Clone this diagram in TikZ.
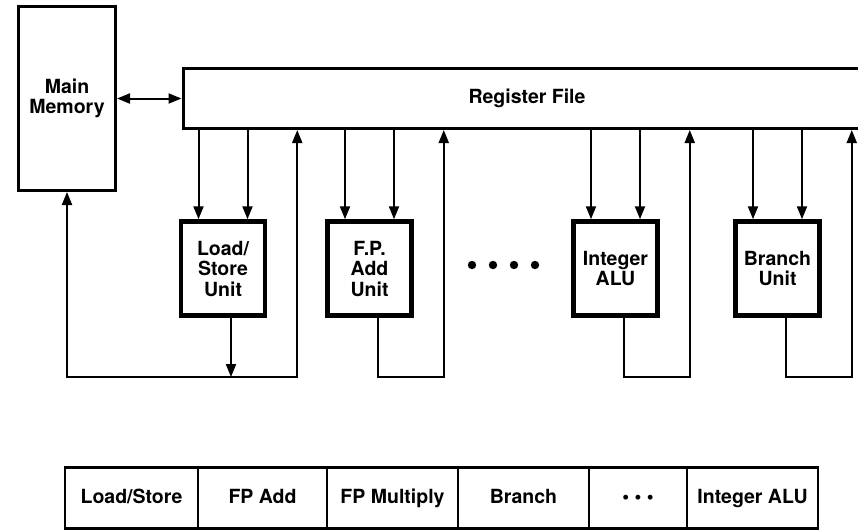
\documentclass[tikz,border=0pt]{standalone}
\usepackage{fontspec}
\setmainfont{TeX Gyre Heros}
\usetikzlibrary{arrows.meta,positioning}
\tikzset{
  lbl/.style={font=\bfseries\fontsize{19.5}{20.5}\selectfont},
  arr/.style={-{Triangle[length=13pt,width=10pt]}},
}
\begin{document}
\begin{tikzpicture}[x=1pt, y=-1pt, line width=2pt, lbl,
  unit/.style={draw, line width=4.5pt, minimum width=84pt, minimum height=94pt,
               align=center, inner sep=0pt},
  cell/.style={draw, line width=2.5pt, minimum height=61pt, inner sep=0pt,
               outer sep=0pt, anchor=west, text height=14pt, text depth=4pt}]
  \path[use as bounding box, clip] (0,0) rectangle (858,531);
  \node[draw, line width=3pt, minimum width=97pt, minimum height=184pt, align=center] (mem) at (67,98.5) {Main\\Memory};
  \node[draw, line width=3pt, minimum width=688pt, minimum height=60pt, anchor=west] (rf) at (181.5,98.5) {Register File};
  \draw[{Triangle[length=13pt,width=10pt]}-{Triangle[length=13pt,width=10pt]}] (mem.east) -- (rf.west);
  % functional units
  \node[unit] (ls)   at (223,268.5)   {Load/\\Store\\Unit};
  \node[unit] (fpa)  at (369.5,268.5) {F.P.\\Add\\Unit};
  \node[unit] (ialu) at (615.5,268.5) {Integer\\ALU};
  \node[unit] (br)   at (777.5,268.5) {Branch\\Unit};
  \foreach \x in {472,493,514,535} \fill (\x,265) circle (4.2pt);
  \coordinate (bus) at (0,377);
  % operands in
  \foreach \u in {ls,fpa,ialu,br} {
    \coordinate (\u-a) at ([xshift=-24.5pt]\u.north);
    \coordinate (\u-b) at ([xshift=24.5pt]\u.north);
    \coordinate (\u-o) at ([xshift=8pt]\u.south);
    \coordinate (\u-r) at ([xshift=30pt]\u.east);
    \draw[arr] (rf.south -| \u-a) -- (\u-a);
    \draw[arr] (rf.south -| \u-b) -- (\u-b);
  }
  % results back
  \draw[arr] (ls-o) -- (ls-o |- bus);
  \draw[arr] (ls-o |- bus) -| (mem.south);
  \draw[arr] (ls-o |- bus) -| (ls-r |- rf.south);
  \draw[arr] (fpa-o) -- (fpa-o |- bus) -| (fpa-r |- rf.south);
  \draw[arr] (ialu-o) -- (ialu-o |- bus) -| (ialu-r |- rf.south);
  \draw[arr] (br-o) -- (br-o |- bus) -| (br-r |- rf.south);
  % issue slots
  \node[cell, minimum width=133pt] (s1) at (65,498) {Load/Store};
  \node[cell, minimum width=129pt, right=0pt of s1] (s2) {FP Add};
  \node[cell, minimum width=131pt, right=0pt of s2] (s3) {FP Multiply};
  \node[cell, minimum width=131pt, right=0pt of s3] (s4) {Branch};
  \node[cell, minimum width=98pt,  right=0pt of s4] (s5) {\textbullet\ \textbullet\ \textbullet};
  \node[cell, minimum width=131pt, right=0pt of s5] (s6) {Integer ALU};
\end{tikzpicture}
\end{document}
